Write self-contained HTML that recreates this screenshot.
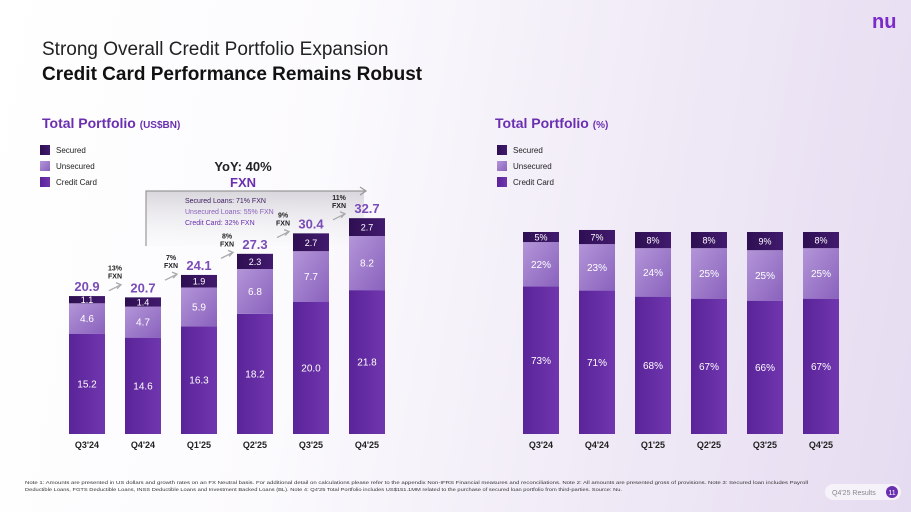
<!DOCTYPE html>
<html><head><meta charset="utf-8">
<style>
body{margin:0;width:911px;height:512px;overflow:hidden;font-family:"Liberation Sans",sans-serif;}
#bg{position:absolute;left:0;top:0;width:911px;height:512px;background:linear-gradient(100deg,#ffffff 0%,#fbfafd 35%,#efe9f6 70%,#e6dcf1 100%);}
svg{position:absolute;left:0;top:0;}
</style></head>
<body>
<div id="bg"></div>
<svg id="s" width="911" height="512">
<defs>
<linearGradient id="gU" x1="0" y1="0" x2="1" y2="1"><stop offset="0" stop-color="#b395d8"/><stop offset="1" stop-color="#8a62bd"/></linearGradient>
<linearGradient id="gC" x1="0" y1="0" x2="1" y2="0"><stop offset="0" stop-color="#5a2499"/><stop offset="1" stop-color="#7036ae"/></linearGradient>
<linearGradient id="gS" x1="0" y1="0" x2="1" y2="0"><stop offset="0" stop-color="#2e0f52"/><stop offset="1" stop-color="#421a6e"/></linearGradient>
<linearGradient id="gBox" x1="0" y1="0" x2="0" y2="1"><stop offset="0" stop-color="#d8d6dc"/><stop offset="1" stop-color="#f6f5f8" stop-opacity="0.3"/></linearGradient>
</defs>
<text x="42" y="55" font-size="19" fill="#222">Strong Overall Credit Portfolio Expansion</text>
<text x="42" y="80" font-size="19" font-weight="bold" fill="#111">Credit Card Performance Remains Robust</text>
<text x="872" y="28" font-size="20" font-weight="bold" fill="#7a2bc9">nu</text>
<text x="42" y="128" font-size="14" font-weight="bold" fill="#6a2fb0">Total Portfolio <tspan font-size="10">(US$BN)</tspan></text>
<text x="495" y="128" font-size="14" font-weight="bold" fill="#6a2fb0">Total Portfolio <tspan font-size="10">(%)</tspan></text>
<g>
<rect x="40" y="145" width="10" height="10" fill="url(#gS)"/><text x="56" y="153" font-size="8" fill="#222">Secured</text>
<rect x="40" y="161" width="10" height="10" fill="url(#gU)"/><text x="56" y="169" font-size="8" fill="#222">Unsecured</text>
<rect x="40" y="177" width="10" height="10" fill="url(#gC)"/><text x="56" y="185" font-size="8" fill="#222">Credit Card</text>
</g>
<g>
<rect x="497" y="145" width="10" height="10" fill="url(#gS)"/><text x="513" y="153" font-size="8" fill="#222">Secured</text>
<rect x="497" y="161" width="10" height="10" fill="url(#gU)"/><text x="513" y="169" font-size="8" fill="#222">Unsecured</text>
<rect x="497" y="177" width="10" height="10" fill="url(#gC)"/><text x="513" y="185" font-size="8" fill="#222">Credit Card</text>
</g>
<g>
<rect x="146" y="191" width="218" height="55" fill="url(#gBox)"/>
<polyline points="146,246 146,191 366,191" fill="none" stroke="#999" stroke-width="1.2"/>
<polyline points="360,187 366,191 360,195" fill="none" stroke="#999" stroke-width="1.2"/>
<text x="243" y="171" font-size="13" font-weight="bold" fill="#222" text-anchor="middle">YoY: 40%</text>
<text x="243" y="187" font-size="13" font-weight="bold" fill="#6a2fb0" text-anchor="middle">FXN</text>
<text x="185" y="203" font-size="7" fill="#3a1a5e">Secured Loans: 71% FXN</text>
<text x="185" y="214" font-size="7" fill="#8a62bd">Unsecured Loans: 55% FXN</text>
<text x="185" y="225" font-size="7" fill="#6a2fb0">Credit Card: 32% FXN</text>
</g>
<g id="left"></g>
<g id="right"></g>
<text x="25" y="484" font-size="4.8" fill="#333" textLength="783" lengthAdjust="spacingAndGlyphs">Note 1: Amounts are presented in US dollars and growth rates on an FX Neutral basis. For additional detail on calculations please refer to the appendix Non-IFRS Financial measures and reconciliations. Note 2: All amounts are presented gross of provisions. Note 3: Secured loan includes Payroll</text>
<text x="25" y="491" font-size="4.8" fill="#333" textLength="597" lengthAdjust="spacingAndGlyphs">Deductible Loans, FGTS Deductible Loans, INSS Deductible Loans and Investment Backed Loans (BL). Note 4: Q4'25 Total Portfolio includes US$151.1MM related to the purchase of secured loan portfolio from third-parties. Source: Nu.</text>
<rect x="825" y="484" width="76" height="16" rx="8" fill="#fff" opacity="0.6"/>
<text x="832" y="495" font-size="7" fill="#888">Q4'25 Results</text>
<circle cx="892" cy="492" r="6" fill="#6a2fb0"/>
<text x="892" y="495" font-size="7" fill="#fff" text-anchor="middle">11</text>
</svg>
<script>
const categories=["Q3'24","Q4'24","Q1'25","Q2'25","Q3'25","Q4'25"];
const creditCard=[15.2,14.6,16.3,18.2,20.0,21.8];
const unsecured=[4.6,4.7,5.9,6.8,7.7,8.2];
const secured=[1.1,1.4,1.9,2.3,2.7,2.7];
const totals=[20.9,20.7,24.1,27.3,30.4,32.7];
const growth=["13%","7%","8%","9%","11%"];
const pctCard=[73,71,68,67,66,67];
const pctUnsec=[22,23,24,25,25,25];
const pctSec=[5,7,8,8,9,8];

const NS="http://www.w3.org/2000/svg";
function mk(p,tag,attrs,txt){const e=document.createElementNS(NS,tag);for(const k in attrs)e.setAttribute(k,attrs[k]);if(txt!==undefined)e.textContent=txt;p.appendChild(e);return e;}
const base=434,bw=36;
const xL=i=>69+i*56, yL=v=>v*6.6;
const xR=i=>523+i*56, yR=v=>v*2.02;
const L=document.getElementById('left'),R=document.getElementById('right');

function stack(g,x,vals,fills,labels,yf,idx,pre){
  let y=base;
  vals.forEach((v,k)=>{
    const h=yf(v);y-=h;
    const r=mk(g,'rect',{x:x,y:y,width:bw,height:h,fill:fills[k]});
    
    
    const t=mk(g,'text',{x:x+bw/2,y:y+h/2+3.5,'font-size':k==2?9:10,fill:'#fff','text-anchor':'middle'},labels[k]);
    
    
  });
  return y;
}
const fills=['url(#gC)','url(#gU)','url(#gS)'];
categories.forEach((c,i)=>{
  const top=stack(L,xL(i),[creditCard[i],unsecured[i],secured[i]],fills,[creditCard[i].toFixed(1),unsecured[i].toFixed(1),secured[i].toFixed(1)],yL,i,'left-bar');
  const t=mk(L,'text',{x:xL(i)+bw/2,y:top-5,'font-size':13,'font-weight':'bold',fill:'#7a4cb8','text-anchor':'middle'},totals[i].toFixed(1));
  
  
  const a=mk(L,'text',{x:xL(i)+bw/2,y:base+14,'font-size':9,'font-weight':'bold',fill:'#222','text-anchor':'middle'},c);
  
  
  stack(R,xR(i),[pctCard[i],pctUnsec[i],pctSec[i]],fills,[pctCard[i]+'%',pctUnsec[i]+'%',pctSec[i]+'%'],yR,i,'right-bar');
  const b=mk(R,'text',{x:xR(i)+bw/2,y:base+14,'font-size':9,'font-weight':'bold',fill:'#222','text-anchor':'middle'},c);
  
  
});
growth.forEach((g,i)=>{
  const yA=(base-yL(totals[i])+base-yL(totals[i+1]))/2-10;
  const x0=xL(i)+bw+4,x1=xL(i+1)-4;
  const gg=mk(L,'g',{});
  
  
  mk(gg,'line',{x1:x0,y1:yA+4,x2:x1,y2:yA-2,stroke:'#aaa','stroke-width':1.3});
  mk(gg,'polyline',{points:`${x1-5},${yA-4} ${x1},${yA-2} ${x1-4},${yA+2}`,fill:'none',stroke:'#aaa','stroke-width':1.3});
  const cx=(x0+x1)/2;
  mk(gg,'text',{x:cx,y:yA-16,'font-size':7,'font-weight':'bold',fill:'#222','text-anchor':'middle'},g);
  mk(gg,'text',{x:cx,y:yA-8,'font-size':7,'font-weight':'bold',fill:'#222','text-anchor':'middle'},'FXN');
});
</script>
</body></html>
